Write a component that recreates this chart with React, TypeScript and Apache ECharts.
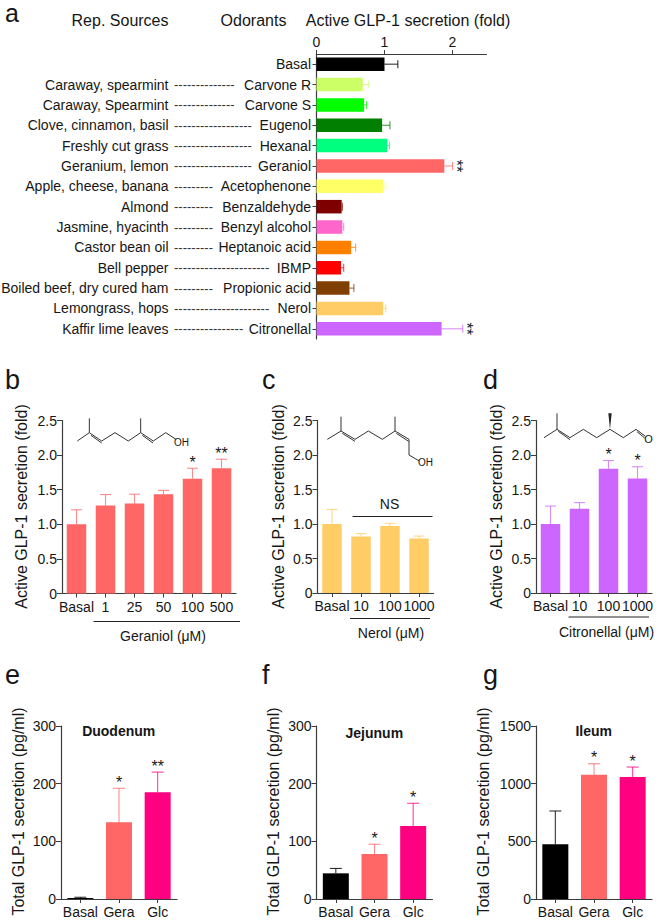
import React, { useEffect, useRef } from "react";
import * as echarts from "echarts";

const FONT = '"Liberation Sans", Arial, sans-serif';
const INK = "#161616";
const AXIS = "#3c3c3c";

// Panel a
const odorants = ["Basal", "Carvone R", "Carvone S", "Eugenol", "Hexanal", "Geraniol", "Acetophenone", "Benzaldehyde", "Benzyl alcohol", "Heptanoic acid", "IBMP", "Propionic acid", "Nerol", "Citronellal"];
const sources = ["", "Caraway, spearmint", "Caraway, Spearmint", "Clove, cinnamon, basil", "Freshly cut grass", "Geranium, lemon", "Apple, cheese, banana", "Almond", "Jasmine, hyacinth", "Castor bean oil", "Bell pepper", "Boiled beef, dry cured ham", "Lemongrass, hops", "Kaffir lime leaves"];
const dashCounts = [0, 14, 14, 18, 18, 18, 9, 9, 9, 9, 22, 9, 22, 16];
const aMeans = [1.0, 0.68, 0.7, 0.965, 1.04, 1.88, 0.98, 0.37, 0.38, 0.51, 0.36, 0.485, 0.98, 1.84];
const aUppers = [1.196, 0.77, 0.735, 1.08, 1.075, 2.0, 1.02, 0.38, 0.4, 0.575, 0.4, 0.55, 1.02, 2.15];
const aColors = ["#000000", "#CCFF66", "#00FF00", "#007F00", "#00FF7F", "#FF6666", "#FFFF66", "#7F0000", "#FF66CC", "#FF7F00", "#FF0000", "#7F3F00", "#FFCC66", "#CC66FF"];
const aStars = ["", "", "", "", "", "**", "", "", "", "", "", "", "", "**"];

// Panel b
const bCats = ["Basal", "1", "25", "50", "100", "500"];
const bMeans = [1.0, 1.27, 1.3, 1.435, 1.66, 1.81];
const bUppers = [1.21, 1.43, 1.435, 1.49, 1.81, 1.94];
const bStars = ["", "", "", "", "*", "**"];
// Panel c
const cCats = ["Basal", "10", "100", "1000"];
const cMeans = [1.0, 0.82, 0.97, 0.79];
const cUppers = [1.21, 0.86, 1.01, 0.825];
const cStars = ["", "", "", ""];
// Panel d
const dCats = ["Basal", "10", "100", "1000"];
const dMeans = [1.0, 1.22, 1.8, 1.66];
const dUppers = [1.26, 1.31, 1.92, 1.83];
const dStars = ["", "", "*", "*"];
// Panels e, f, g
const tissueCats = ["Basal", "Gera", "Glc"];
const tissueColors = ["#000000", "#FF6666", "#FF0080"];
const eMeans = [1.7, 133, 185];
const eUppers = [3, 192, 220];
const eStars = ["", "*", "**"];
const fMeans = [44.5, 78, 126.6];
const fUppers = [53, 95, 166];
const fStars = ["", "*", "*"];
const gMeans = [474, 1078, 1058];
const gUppers = [763, 1173, 1144];
const gStars = ["", "*", "*"];

const ACTIVE = "Active GLP-1 secretion (fold)";
const TOTAL = "Total GLP-1 secretion (pg/ml)";

const tickFmt = (v: number) => (v === 0 ? "0" : v.toFixed(1));
const plainFmt = (v: number) => String(v);

const text = (s: string, x: number, y: number, size = 14, align = "center", weight = "normal", rotation = 0) => ({
  type: "text", x, y, rotation, silent: true,
  style: { text: s, x: 0, y: 0, align, verticalAlign: "middle", fill: INK, font: `${weight} ${size}px ${FONT}` },
});
const hline = (x1: number, x2: number, y: number) => ({
  type: "line", silent: true,
  shape: { x1, y1: y, x2, y2: y },
  style: { stroke: "#222", lineWidth: 1 },
});
// Skeletal formula strokes, measured in 3x crop coordinates
const skeleton = (ox: number, oy: number, pts: number[][], width = 1) => ({
  type: "polyline", silent: true,
  shape: { points: pts.map(([x, y]) => [ox + x / 3, oy + y / 3]) },
  style: { stroke: "#333", lineWidth: width, fill: "none" },
});

const errorRender = (colors: string[], stars: string[], horizontal: boolean, capHalf: number, gap: number, starFont: number) =>
  (params: any, api: any) => {
    const i = params.dataIndex;
    const cat = api.value(0), mean = api.value(1), up = api.value(2);
    const a = api.coord(horizontal ? [mean, cat] : [cat, mean]);
    const b = api.coord(horizontal ? [up, cat] : [cat, up]);
    const color = colors[i % colors.length];
    const stroke = { stroke: color, lineWidth: 1.1, opacity: color === "#000000" ? 0.8 : 0.75 };
    const children: any[] = [
      { type: "line", shape: { x1: a[0], y1: a[1], x2: b[0], y2: b[1] }, style: stroke },
      {
        type: "line",
        shape: horizontal
          ? { x1: b[0], y1: b[1] - capHalf, x2: b[0], y2: b[1] + capHalf }
          : { x1: b[0] - capHalf, y1: b[1], x2: b[0] + capHalf, y2: b[1] },
        style: stroke,
      },
    ];
    if (stars[i]) {
      children.push({
        type: "text",
        x: horizontal ? b[0] + gap : b[0],
        y: horizontal ? b[1] : b[1] - gap,
        rotation: horizontal ? -Math.PI / 2 : 0,
        style: { text: stars[i], x: 0, y: 0, align: "center", verticalAlign: "middle", fill: INK, font: `normal ${starFont}px ${FONT}` },
      });
    }
    return { type: "group", children };
  };

type Panel = {
  left: number; top: number; width: number; height: number; cats: string[];
  means: number[]; uppers: number[]; colors: string[]; stars: string[];
  max: number; interval: number; fmt: (v: number) => string; barWidth: number; cap: number;
};

const panels: Panel[] = [
  { left: 62, top: 420.5, width: 174, height: 173, cats: bCats, means: bMeans, uppers: bUppers, colors: ["#FF6666"], stars: bStars, max: 2.5, interval: 0.5, fmt: tickFmt, barWidth: 19.5, cap: 5.5 },
  { left: 317.5, top: 420.5, width: 116, height: 172.5, cats: cCats, means: cMeans, uppers: cUppers, colors: ["#FFCC66"], stars: cStars, max: 2.5, interval: 0.5, fmt: tickFmt, barWidth: 19.5, cap: 5.5 },
  { left: 536, top: 420.5, width: 116, height: 172.5, cats: dCats, means: dMeans, uppers: dUppers, colors: ["#CC66FF"], stars: dStars, max: 2.5, interval: 0.5, fmt: tickFmt, barWidth: 19.5, cap: 5.5 },
  { left: 61, top: 726, width: 116, height: 173, cats: tissueCats, means: eMeans, uppers: eUppers, colors: tissueColors, stars: eStars, max: 300, interval: 100, fmt: plainFmt, barWidth: 26, cap: 6 },
  { left: 316.5, top: 726, width: 116, height: 173, cats: tissueCats, means: fMeans, uppers: fUppers, colors: tissueColors, stars: fStars, max: 300, interval: 100, fmt: plainFmt, barWidth: 26, cap: 6 },
  { left: 536, top: 726, width: 116, height: 173, cats: tissueCats, means: gMeans, uppers: gUppers, colors: tissueColors, stars: gStars, max: 1500, interval: 500, fmt: plainFmt, barWidth: 26, cap: 6 },
];

const axisLine = { show: true, lineStyle: { color: AXIS, width: 1.2 } };
const axisTick = { show: true, length: 4, lineStyle: { color: AXIS, width: 1 } };
const label = { color: INK, fontFamily: FONT, fontSize: 14 };

function buildOption() {
  const grid: any[] = [{ left: 316.5, top: 54, width: 170, height: 285, outerBoundsMode: "none" }];
  const xAxis: any[] = [{
    gridIndex: 0, type: "value", position: "top", min: 0, max: 2.5, interval: 1, splitLine: { show: false },
    axisLine, axisTick: { ...axisTick, customValues: [0, 1, 2] }, axisLabel: { ...label, margin: 5, customValues: [0, 1, 2] },
  }];
  const hiddenAxis = { type: "category", gridIndex: 0, inverse: true, position: "left", axisLine: { show: false }, axisTick: { show: false } };
  const yAxis: any[] = [
    { gridIndex: 0, type: "category", inverse: true, data: odorants, axisLine, axisTick: { ...axisTick, alignWithLabel: true }, axisLabel: { ...label, interval: 0, margin: 5.5 } },
    { ...hiddenAxis, data: sources, offset: 148, axisLabel: { ...label, interval: 0, margin: 0 } },
    {
      ...hiddenAxis, data: odorants, offset: 142.5,
      axisLabel: { color: "#333", fontFamily: FONT, fontSize: 13, interval: 0, margin: 0, align: "left", formatter: (_: string, i: number) => "-".repeat(dashCounts[i]) },
    },
  ];
  const series: any[] = [
    {
      type: "bar", xAxisIndex: 0, yAxisIndex: 0, barWidth: 13.5, silent: true,
      data: aMeans.map((v, i) => ({ value: v, itemStyle: { color: aColors[i] } })),
    },
    {
      type: "custom", xAxisIndex: 0, yAxisIndex: 0, silent: true, clip: false, encode: { x: [1, 2], y: 0 },
      data: aMeans.map((m, i) => [i, m, aUppers[i]]),
      renderItem: errorRender(aColors, aStars, true, 4, 3.5, 16),
    },
  ];
  panels.forEach((p, n) => {
    const g = n + 1;
    const yIdx = yAxis.length;
    grid.push({ left: p.left, top: p.top, width: p.width, height: p.height, outerBoundsMode: "none" });
    xAxis.push({
      gridIndex: g, type: "category", data: p.cats, axisLine,
      axisTick: { ...axisTick, alignWithLabel: true }, axisLabel: { ...label, interval: 0, margin: 6 },
    });
    yAxis.push({
      gridIndex: g, type: "value", min: 0, max: p.max, interval: p.interval, splitLine: { show: false },
      axisLine, axisTick: { ...axisTick, length: 5 }, axisLabel: { ...label, margin: 5, formatter: p.fmt },
    });
    series.push(
      {
        type: "bar", xAxisIndex: g, yAxisIndex: yIdx, barWidth: p.barWidth, silent: true,
        data: p.means.map((v, i) => ({ value: v, itemStyle: { color: p.colors[i % p.colors.length] } })),
      },
      {
        type: "custom", xAxisIndex: g, yAxisIndex: yIdx, silent: true, clip: false, encode: { x: 0, y: [1, 2] },
        data: p.means.map((m, i) => [i, m, p.uppers[i]]),
        renderItem: errorRender(p.colors, p.stars, false, p.cap, 6, 16),
      },
    );
  });

  const up = Math.PI / 2;
  const graphic: any[] = [
    text("a", 5, 12.5, 25, "left"), text("b", 5, 380, 27, "left"), text("c", 262, 380, 27, "left"), text("d", 483, 380, 27, "left"),
    text("e", 5, 675, 27, "left"), text("f", 262, 675, 27, "left"), text("g", 483, 675, 27, "left"),
    text("Rep. Sources", 168.5, 20, 16, "right"), text("Odorants", 253.5, 20, 16), text(ACTIVE, 408, 20, 16),
    text(ACTIVE, 21.5, 506.5, 16, "center", "normal", up), text(ACTIVE, 278, 506.5, 16, "center", "normal", up), text(ACTIVE, 496, 506.5, 16, "center", "normal", up),
    text(TOTAL, 18, 811.5, 16, "center", "normal", up), text(TOTAL, 273, 811.5, 16, "center", "normal", up), text(TOTAL, 483, 811.5, 16, "center", "normal", up),
    hline(93.5, 240, 621.5), text("Geraniol (\u03bcM)", 163, 636),
    hline(350, 430, 618.5), text("Nerol (\u03bcM)", 391, 633),
    hline(352.5, 432.5, 516.5), text("NS", 389.5, 504),
    hline(568.5, 649, 617), text("Citronellal (\u03bcM)", 606.5, 632),
    text("Duodenum", 118.7, 731, 14, "center", "bold"), text("Jejunum", 374.3, 733, 14, "center", "bold"), text("Ileum", 593.7, 731, 14, "center", "bold"),
    // Geraniol
    skeleton(0, 360, [[232, 243], [268, 218], [305, 243], [345, 218], [385, 243], [422, 218], [460, 243], [497, 218], [528, 238]]),
    skeleton(0, 360, [[268, 218], [268, 175]]), skeleton(0, 360, [[422, 218], [422, 175]]),
    skeleton(0, 360, [[273, 226], [305, 249]]), skeleton(0, 360, [[427, 226], [459, 249]]),
    text("OH", 181.5, 442, 10),
    // Nerol
    skeleton(220, 360, [[322, 238], [363, 213], [405, 238], [445, 213], [487, 238], [525, 213], [567, 238], [567, 285], [598, 303]]),
    skeleton(220, 360, [[363, 213], [363, 170]]), skeleton(220, 360, [[525, 213], [525, 170]]),
    skeleton(220, 360, [[367, 220], [405, 244]]), skeleton(220, 360, [[529, 220], [566, 244]]),
    text("OH", 425.5, 462.5, 10),
    // Citronellal
    skeleton(430, 360, [[342, 233], [381, 208], [420, 233], [460, 208], [500, 233], [540, 208], [580, 233], [618, 208], [645, 228]]),
    skeleton(430, 360, [[381, 208], [381, 160]]), skeleton(430, 360, [[385, 214], [420, 239]]), skeleton(430, 360, [[621, 215], [644, 234]]),
    {
      type: "polygon", silent: true,
      shape: { points: [[430 + 540 / 3, 360 + 208 / 3], [430 + 535 / 3, 360 + 160 / 3], [430 + 545 / 3, 360 + 160 / 3]] },
      style: { fill: "#222" },
    },
    text("O", 648.5, 438.5, 11),
  ];

  return { animation: false, backgroundColor: "#fff", grid, xAxis, yAxis, series, graphic };
}

export default function App() {
  const ref = useRef<HTMLDivElement>(null);
  useEffect(() => {
    const chart = echarts.init(ref.current!, undefined, { renderer: "svg" });
    chart.setOption(buildOption() as any);
    return () => chart.dispose();
  }, []);
  return <div ref={ref} style={{ position: "absolute", left: 0, top: 0, width: 660, height: 922 }} />;
}
